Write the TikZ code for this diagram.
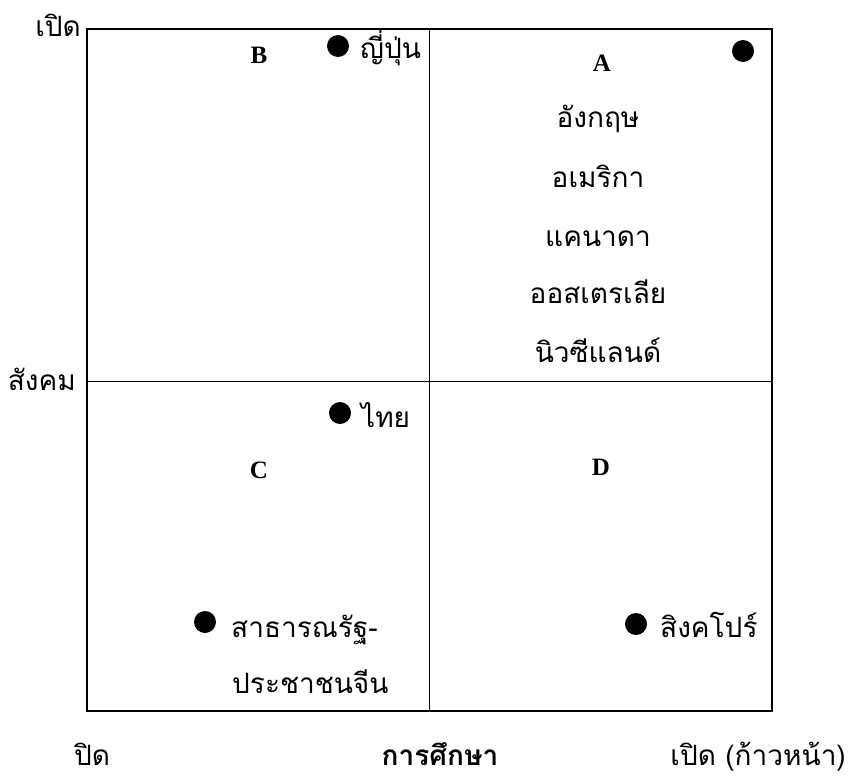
\documentclass[tikz,border=0pt]{standalone}
\usepackage{fontspec}
\newfontfamily\thaifont[Script=Thai]{Loma}
\newfontfamily\latfont{Liberation Serif}
\begin{document}
\begin{tikzpicture}[x=1pt,y=-1pt,
  th/.style={font=\thaifont\fontsize{28}{32}\selectfont, inner sep=0pt, text=black},
  thb/.style={font=\thaifont\bfseries\fontsize{28}{32}\selectfont, inner sep=0pt, text=black},
  quad/.style={font=\latfont\bfseries\fontsize{25}{29}\selectfont, inner sep=0pt, text=black},
  dotmark/.style={circle, fill=black, draw=none, minimum size=22pt, inner sep=0pt},
  outerline/.style={draw=black, line width=1.3pt},
  innerline/.style={draw=black, line width=0.7pt}]
\useasboundingbox (0,0) rectangle (851,778);
% frame
\coordinate (tl) at (87,29);
\coordinate (br) at (772,711);
\coordinate (mt) at (429,29);
\coordinate (mb) at (429,711);
\coordinate (ml) at (87,381);
\coordinate (mr) at (772,381);
\draw[innerline] (mt) -- (mb);
\draw[innerline] (ml) -- (mr);
\draw[outerline] (tl) rectangle (br);
% axis labels
\node[th, anchor=base east] (open) at (81,37) {เปิด};
\node[th, anchor=base east] (social) at (76,390) {สังคม};
\node[th, anchor=base west] (closed) at (74,765) {ปิด};
\node[thb, anchor=base] (edu) at (440,765) {การศึกษา};
\node[th, anchor=base east] (openadv) at (846,765) {เปิด (ก้าวหน้า)};
% quadrant letters
\node[quad] (qA) at (602,63) {A};
\node[quad] (qB) at (259,55) {B};
\node[quad] (qC) at (259,470) {C};
\node[quad] (qD) at (601,467) {D};
% dots
\node[dotmark] (dA) at (743,51) {};
\node[dotmark] (dB) at (338,46) {};
\node[dotmark] (dT) at (340,413) {};
\node[dotmark] (dC) at (205,622) {};
\node[dotmark] (dS) at (636,624) {};
% country labels
\node[th, anchor=base west] (japan) at (360,59) {ญี่ปุ่น};
\node[th, anchor=base] (uk) at (598,128) {อังกฤษ};
\node[th, anchor=base] (us) at (598,188) {อเมริกา};
\node[th, anchor=base] (ca) at (598,247) {แคนาดา};
\node[th, anchor=base] (au) at (598,303) {ออสเตรเลีย};
\node[th, anchor=base] (nz) at (598,362) {นิวซีแลนด์};
\node[th, anchor=base west] (thai) at (361,427) {ไทย};
\node[th, anchor=base west] (cn1) at (231,637) {สาธารณรัฐ-};
\node[th, anchor=base west] (cn2) at (232,693) {ประชาชนจีน};
\node[th, anchor=base west] (sg) at (660,637) {สิงคโปร์};
\end{tikzpicture}
\end{document}
